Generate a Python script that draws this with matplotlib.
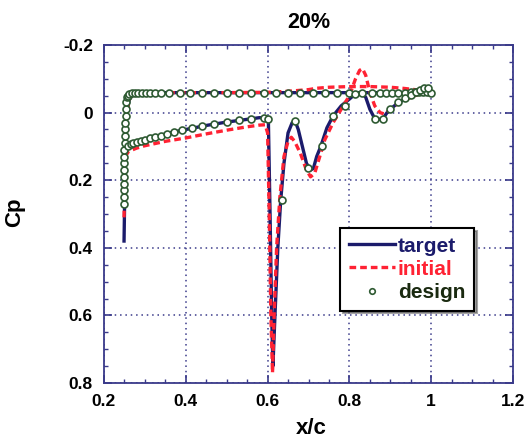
import matplotlib
matplotlib.use("Agg")
import matplotlib.pyplot as plt
from matplotlib.ticker import MultipleLocator, FormatStrFormatter

plt.rcParams['font.family'] = ['Liberation Sans', 'DejaVu Sans']
plt.rcParams['font.weight'] = 'bold'

# ---- data ----
# target, upper side (flat suction plateau)
tgt_up_x = [0.249, 0.250, 0.251, 0.252, 0.254, 0.257, 0.262, 0.270, 0.280, 0.300, 0.400,
            0.500, 0.600, 0.700, 0.800, 0.900, 0.950, 1.000]
tgt_up_cp = [0.38, 0.30, 0.20, 0.10, 0.03, -0.01, -0.04, -0.054, -0.058, -0.059, -0.059,
             -0.059, -0.059, -0.059, -0.059, -0.059, -0.060, -0.060]

# target, lower side (with the shock)
tgt_lo_x = [0.252, 0.258, 0.265, 0.280, 0.300, 0.330, 0.360, 0.400, 0.450, 0.500, 0.550,
            0.580, 0.595, 0.602, 0.606, 0.610, 0.613, 0.618, 0.625, 0.632, 0.640, 0.650,
            0.660, 0.667, 0.675, 0.685, 0.695, 0.705, 0.712, 0.720, 0.730, 0.745, 0.760,
            0.780, 0.800, 0.815, 0.830, 0.840, 0.850, 0.862, 0.872, 0.882, 0.892, 0.905,
            0.920, 0.940, 0.960, 0.975, 0.988, 1.000]
tgt_lo_cp = [0.12, 0.105, 0.097, 0.088, 0.080, 0.070, 0.060, 0.050, 0.038, 0.028, 0.020,
             0.015, 0.016, 0.030, 0.30, 0.60, 0.75, 0.60, 0.40, 0.26, 0.15, 0.06,
             0.03, 0.024, 0.05, 0.10, 0.15, 0.17, 0.165, 0.13, 0.10, 0.045, 0.010,
             -0.020, -0.040, -0.056, -0.060, -0.045, -0.010, 0.018, 0.020, 0.018, 0.000, -0.015,
             -0.030, -0.042, -0.055, -0.066, -0.072, -0.060]

# initial geometry
ini_up_x = [0.249, 0.250, 0.251, 0.252, 0.254, 0.257, 0.262, 0.270, 0.280, 0.300, 0.400,
            0.500, 0.600, 0.650, 0.700, 0.720, 0.750, 0.800, 0.850, 0.900, 0.930, 0.960, 1.000]
ini_up_cp = [0.31, 0.25, 0.18, 0.10, 0.03, -0.01, -0.04, -0.054, -0.058, -0.059, -0.059,
             -0.059, -0.060, -0.063, -0.068, -0.072, -0.075, -0.077, -0.077, -0.075, -0.072,
             -0.068, -0.062]

ini_lo_x = [0.252, 0.260, 0.280, 0.300, 0.350, 0.400, 0.450, 0.500, 0.550, 0.580, 0.594,
            0.600, 0.604, 0.608, 0.612, 0.616, 0.622, 0.630, 0.640, 0.650, 0.658, 0.666,
            0.680, 0.695, 0.705, 0.715, 0.725, 0.740, 0.760, 0.780, 0.800, 0.815, 0.825,
            0.832, 0.840, 0.850, 0.862, 0.875, 0.885, 0.895, 0.910, 0.930, 0.960, 0.985, 1.000]
ini_lo_cp = [0.13, 0.115, 0.105, 0.098, 0.085, 0.075, 0.063, 0.052, 0.042, 0.037, 0.036,
             0.060, 0.30, 0.60, 0.77, 0.60, 0.40, 0.25, 0.13, 0.085, 0.073, 0.085,
             0.12, 0.17, 0.19, 0.18, 0.14, 0.08, 0.03, -0.010, -0.050, -0.100, -0.125,
             -0.130, -0.110, -0.060, -0.020, 0.000, 0.004, -0.005, -0.020, -0.035, -0.050,
             -0.060, -0.062]

# design result (markers)
des_x = [0.248, 0.248, 0.248, 0.249, 0.249, 0.249, 0.250, 0.250, 0.250, 0.251,
         0.251, 0.252, 0.252, 0.253, 0.254, 0.255, 0.256,
         0.258, 0.262, 0.268, 0.275, 0.283, 0.292, 0.302, 0.313, 0.325, 0.340,
         0.360, 0.385, 0.410, 0.440, 0.470, 0.500, 0.530, 0.560, 0.590, 0.620,
         0.650, 0.680, 0.710, 0.740, 0.770, 0.800, 0.830, 0.855, 0.875, 0.890,
         0.905, 0.920, 0.935, 0.950, 0.960, 0.970, 0.980, 0.990, 1.000,
         0.258, 0.265, 0.272, 0.280, 0.290, 0.300, 0.312, 0.325, 0.340, 0.355,
         0.370, 0.390, 0.415, 0.440, 0.470, 0.500, 0.530, 0.560, 0.590, 0.602,
         0.635, 0.667, 0.699, 0.733, 0.760, 0.789, 0.814, 0.863, 0.882, 0.900,
         0.918, 0.935, 0.950, 0.962, 0.972, 0.982, 0.992]
des_cp = [0.27, 0.25, 0.23, 0.21, 0.19, 0.17, 0.15, 0.13, 0.11, 0.09,
          0.07, 0.05, 0.03, 0.01, -0.01, -0.03, -0.045,
          -0.050, -0.055, -0.058, -0.059, -0.059, -0.059, -0.059, -0.059, -0.059, -0.059,
          -0.059, -0.059, -0.059, -0.059, -0.059, -0.059, -0.059, -0.059, -0.059, -0.059,
          -0.059, -0.059, -0.059, -0.059, -0.059, -0.059, -0.059, -0.059, -0.059, -0.059,
          -0.059, -0.059, -0.059, -0.060, -0.060, -0.060, -0.060, -0.060, -0.058,
          0.100, 0.093, 0.089, 0.086, 0.083, 0.080, 0.076, 0.072, 0.068, 0.063,
          0.058, 0.052, 0.046, 0.040, 0.034, 0.028, 0.023, 0.018, 0.015, 0.020,
          0.26, 0.024, 0.163, 0.100, 0.009, -0.020, -0.056, 0.020, 0.020, -0.012,
          -0.030, -0.042, -0.052, -0.060, -0.068, -0.074, -0.072]

navy = '#1b1b6b'
red = '#ff2233'
green = '#2e5a32'
frame = '#3a3a8a'

fig = plt.figure(figsize=(5.32, 4.43), dpi=100)
ax = fig.add_axes([104 / 532, 60 / 443, 409 / 532, 338 / 443])

ax.plot(tgt_up_x, tgt_up_cp, color=navy, lw=2.4, label='target', zorder=3)
ax.plot(tgt_lo_x, tgt_lo_cp, color=navy, lw=2.4, zorder=3)
ax.plot(ini_up_x, ini_up_cp, color=red, lw=2.4, ls=(0, (2, 1.2)), label='initial', zorder=4)
ax.plot(ini_lo_x, ini_lo_cp, color=red, lw=2.4, ls=(0, (2, 1.2)), zorder=4)
ax.plot(des_x, des_cp, ls='none', marker='o', ms=5, mfc='white', mec=green, mew=1.2,
        label='design', zorder=5)

ax.set_xlim(0.2, 1.2)
ax.set_ylim(0.8, -0.2)
ax.xaxis.set_major_locator(MultipleLocator(0.2))
ax.xaxis.set_minor_locator(MultipleLocator(0.05))
ax.yaxis.set_major_locator(MultipleLocator(0.2))
ax.yaxis.set_minor_locator(MultipleLocator(0.05))
ax.xaxis.set_major_formatter(FormatStrFormatter('%g'))
ax.yaxis.set_major_formatter(FormatStrFormatter('%g'))
ax.tick_params(which='both', direction='in', color=frame, top=True, right=True)
ax.tick_params(which='major', length=6, width=1.2, labelsize=12.5, pad=8)
ax.tick_params(which='minor', length=3, width=1.0)
for s in ax.spines.values():
    s.set_color(frame)
    s.set_linewidth(1.3)
ax.grid(True, which='major', ls=(0, (1, 2.5)), color=frame, lw=1.1)

ax.set_title('20%', fontsize=15.5, fontweight='bold', pad=12)
ax.set_xlabel('x/c', fontsize=16, fontweight='bold')
ax.set_ylabel('Cp', fontsize=16, fontweight='bold')
ax.xaxis.set_label_coords(0.508, -0.104)
ax.yaxis.set_label_coords(-0.193, 0.506)

leg = ax.legend(loc='upper left', bbox_to_anchor=(0.577, 0.459), fancybox=False,
                shadow=True, edgecolor='black', framealpha=1,
                handlelength=2.2, handletextpad=0.15, borderpad=0.42, labelspacing=0.2,
                borderaxespad=0, markerscale=0.8,
                prop={'weight': 'bold', 'size': 15})
leg.get_frame().set_linewidth(1.5)
for t, c in zip(leg.get_texts(), [navy, red, '#1a2a10']):
    t.set_color(c)

plt.savefig('out.png', dpi=100)
plt.close()
